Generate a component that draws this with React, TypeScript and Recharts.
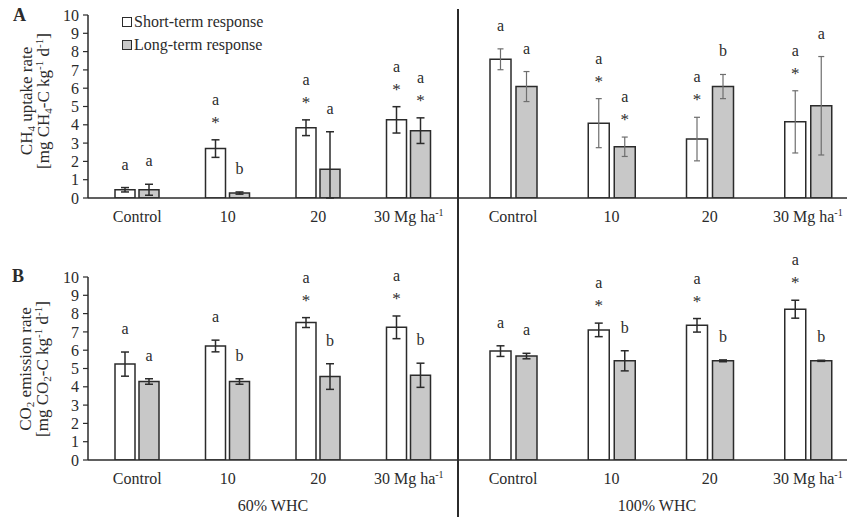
import React from 'react';
import { BarChart, Bar, XAxis, YAxis, ErrorBar, LabelList } from 'recharts';

const categories = ['Control', '10', '20', '30 Mg ha-1'];
const yTicks = [0, 1, 2, 3, 4, 5, 6, 7, 8, 9, 10];

// CH4 uptake, 60% WHC
const ch4DryShort = [0.45, 2.7, 3.84, 4.27];
const ch4DryShortErr = [0.12, 0.48, 0.43, 0.72];
const ch4DryLong = [0.45, 0.27, 1.57, 3.68];
const ch4DryLongErr: any[] = [0.3, 0.06, [1.57, 2.05], 0.7];
const ch4DryShortLetters = ['a', 'a', 'a', 'a'];
const ch4DryShortStars = [false, true, true, true];
const ch4DryLongLetters = ['a', 'b', 'a', 'a'];
const ch4DryLongStars = [false, false, false, true];

// CH4 uptake, 100% WHC
const ch4WetShort = [7.58, 4.09, 3.22, 4.16];
const ch4WetShortErr = [0.57, 1.34, 1.19, 1.7];
const ch4WetLong = [6.09, 2.8, 6.09, 5.04];
const ch4WetLongErr = [0.82, 0.53, 0.66, 2.69];
const ch4WetShortLetters = ['a', 'a', 'a', 'a'];
const ch4WetShortStars = [false, true, true, true];
const ch4WetLongLetters = ['a', 'a', 'b', 'a'];
const ch4WetLongStars = [false, true, false, false];

// CO2 emission, 60% WHC
const co2DryShort = [5.24, 6.23, 7.51, 7.25];
const co2DryShortErr = [0.66, 0.32, 0.27, 0.62];
const co2DryLong = [4.29, 4.29, 4.56, 4.63];
const co2DryLongErr = [0.15, 0.15, 0.7, 0.66];
const co2DryShortLetters = ['a', 'a', 'a', 'a'];
const co2DryShortStars = [false, false, true, true];
const co2DryLongLetters = ['a', 'b', 'b', 'b'];
const co2DryLongStars = [false, false, false, false];

// CO2 emission, 100% WHC
const co2WetShort = [5.95, 7.11, 7.36, 8.24];
const co2WetShortErr = [0.29, 0.37, 0.37, 0.49];
const co2WetLong = [5.68, 5.42, 5.42, 5.42];
const co2WetLongErr = [0.15, 0.55, 0.05, 0.03];
const co2WetShortLetters = ['a', 'a', 'a', 'a'];
const co2WetShortStars = [false, true, true, true];
const co2WetLongLetters = ['a', 'b', 'b', 'b'];
const co2WetLongStars = [false, false, false, false];

const FONT = '"Liberation Serif", "Times New Roman", serif';
const INK = '#2b2b2b';
const GREY = '#c8c8c8';

const buildRows = (s: number[], se: any[], l: number[], le: any[]) =>
  categories.map((cat, i) => ({ cat, short: s[i], shortErr: se[i], long: l[i], longErr: le[i] }));

// letters (and significance stars) placed above the top of each error bar
const letterContent = (letters: string[], stars: boolean[], errs: any[]) => (props: any) => {
  const { x, y, width, height, value, index } = props;
  const e = errs[index];
  const hi = Array.isArray(e) ? e[1] : e;
  const ppu = value ? Math.abs(height) / value : 0;
  const top = y - hi * ppu;
  const cx = x + width / 2;
  const star = stars[index];
  return (
    <g fontFamily={FONT} fill={INK}>
      {star && (
        <text x={cx} y={top - 22 + 10} textAnchor="middle" fontSize={17}>*</text>
      )}
      <text x={cx} y={top - (star ? 39 : 22) + 4} textAnchor="middle" fontSize={16}>
        {letters[index]}
      </text>
    </g>
  );
};

const XTick = (props: any) => {
  const { x, y, payload } = props;
  const v: string = payload.value;
  const parts = v.split('-1');
  return (
    <text x={x} y={y + 24} textAnchor="middle" fontFamily={FONT} fontSize={16} fill={INK}>
      {parts.length > 1 ? (
        <>
          {parts[0]}
          <tspan dy={-6} fontSize={10}>-1</tspan>
        </>
      ) : (
        v
      )}
    </text>
  );
};

interface PanelProps {
  rows: any[];
  withYAxis: boolean;
  width: number;
  barSize: number;
  barGap: number;
  padding: { left: number; right: number };
  errColor: string;
  errWidth: number;
  errCap: number;
  shortLetters: string[];
  shortStars: boolean[];
  shortErr: any[];
  longLetters: string[];
  longStars: boolean[];
  longErr: any[];
}

// each panel: 40px of headroom above the value 10, 183px plot, 32px axis
const Panel: React.FC<PanelProps> = (p) => (
  <BarChart
    width={p.width}
    height={255}
    data={p.rows}
    margin={{ top: 40, right: 0, bottom: 0, left: 0 }}
    barSize={p.barSize}
    barGap={p.barGap}
  >
    <XAxis
      dataKey="cat"
      height={32}
      padding={p.padding}
      tickLine={false}
      tickSize={0}
      tickMargin={0}
      tick={<XTick />}
      interval={0}
      axisLine={{ stroke: INK, strokeWidth: 1.5 }}
    />
    <YAxis
      hide={!p.withYAxis}
      width={88}
      domain={[0, 10]}
      ticks={yTicks}
      interval={0}
      allowDataOverflow
      tickSize={5}
      tickMargin={4}
      tickLine={{ stroke: INK, strokeWidth: 1.2 }}
      axisLine={{ stroke: INK, strokeWidth: 1.5 }}
      tick={{ fontFamily: FONT, fontSize: 16, fill: INK }}
    />
    <Bar dataKey="short" name="Short-term response" fill="#ffffff" stroke={INK} strokeWidth={1.5} isAnimationActive={false}>
      <ErrorBar dataKey="shortErr" width={p.errCap} stroke={p.errColor} strokeWidth={p.errWidth} direction="y" />
      <LabelList dataKey="short" content={letterContent(p.shortLetters, p.shortStars, p.shortErr)} />
    </Bar>
    <Bar dataKey="long" name="Long-term response" fill={GREY} stroke={INK} strokeWidth={1.5} isAnimationActive={false}>
      <ErrorBar dataKey="longErr" width={p.errCap} stroke={p.errColor} strokeWidth={p.errWidth} direction="y" />
      <LabelList dataKey="long" content={letterContent(p.longLetters, p.longStars, p.longErr)} />
    </Bar>
  </BarChart>
);

const abs = (left: number, top: number): React.CSSProperties => ({ position: 'absolute', left, top });

const yTitle: React.CSSProperties = {
  position: 'absolute',
  transform: 'translate(-50%, -50%) rotate(-90deg)',
  whiteSpace: 'nowrap',
  textAlign: 'center',
  fontFamily: FONT,
  fontSize: 17,
  lineHeight: '17px',
  color: INK,
};

const sub: React.CSSProperties = { fontSize: 11, verticalAlign: '-3px', lineHeight: 0 };
const sup: React.CSSProperties = { fontSize: 11, verticalAlign: '6px', lineHeight: 0 };

export default function App() {
  const leftPad = { left: 4, right: 4 };
  const rightPad = { left: 6, right: 1 };
  return (
    <div
      style={{
        position: 'absolute',
        left: 0,
        top: 0,
        width: 847,
        height: 517,
        overflow: 'hidden',
        background: '#ffffff',
        fontFamily: FONT,
        color: INK,
      }}
    >
      {/* A: CH4 uptake */}
      <div style={abs(0, -25)}>
        <Panel
          rows={buildRows(ch4DryShort, ch4DryShortErr, ch4DryLong, ch4DryLongErr)}
          withYAxis width={458} barSize={20} barGap={4} padding={leftPad}
          errColor={INK} errWidth={1.5} errCap={4}
          shortLetters={ch4DryShortLetters} shortStars={ch4DryShortStars} shortErr={ch4DryShortErr}
          longLetters={ch4DryLongLetters} longStars={ch4DryLongStars} longErr={ch4DryLongErr}
        />
      </div>
      <div style={abs(458, -25)}>
        <Panel
          rows={buildRows(ch4WetShort, ch4WetShortErr, ch4WetLong, ch4WetLongErr)}
          withYAxis={false} width={400} barSize={21} barGap={5} padding={rightPad}
          errColor="#6e6e6e" errWidth={1.2} errCap={3}
          shortLetters={ch4WetShortLetters} shortStars={ch4WetShortStars} shortErr={ch4WetShortErr}
          longLetters={ch4WetLongLetters} longStars={ch4WetLongStars} longErr={ch4WetLongErr}
        />
      </div>

      {/* B: CO2 emission */}
      <div style={abs(0, 237)}>
        <Panel
          rows={buildRows(co2DryShort, co2DryShortErr, co2DryLong, co2DryLongErr)}
          withYAxis width={458} barSize={20} barGap={4} padding={leftPad}
          errColor={INK} errWidth={1.5} errCap={4}
          shortLetters={co2DryShortLetters} shortStars={co2DryShortStars} shortErr={co2DryShortErr}
          longLetters={co2DryLongLetters} longStars={co2DryLongStars} longErr={co2DryLongErr}
        />
      </div>
      <div style={abs(458, 237)}>
        <Panel
          rows={buildRows(co2WetShort, co2WetShortErr, co2WetLong, co2WetLongErr)}
          withYAxis={false} width={400} barSize={21} barGap={5} padding={rightPad}
          errColor={INK} errWidth={1.5} errCap={4}
          shortLetters={co2WetShortLetters} shortStars={co2WetShortStars} shortErr={co2WetShortErr}
          longLetters={co2WetLongLetters} longStars={co2WetLongStars} longErr={co2WetLongErr}
        />
      </div>

      {/* divider between moisture levels */}
      <div style={{ position: 'absolute', left: 457, top: 9, width: 1.5, height: 508, background: INK }} />

      {/* panel letters */}
      <div style={{ ...abs(13, 5), fontWeight: 'bold', fontSize: 18 }}>A</div>
      <div style={{ ...abs(12, 266), fontWeight: 'bold', fontSize: 18 }}>B</div>

      {/* y-axis titles */}
      <div style={{ ...yTitle, left: 35, top: 101 }}>
        CH<span style={sub}>4</span> uptake rate
        <br />
        [mg CH<span style={sub}>4</span>-C kg<span style={sup}>-1</span> d<span style={sup}>-1</span>]
      </div>
      <div style={{ ...yTitle, left: 34, top: 369 }}>
        CO<span style={sub}>2</span> emission rate
        <br />
        [mg CO<span style={sub}>2</span>-C kg<span style={sup}>-1</span> d<span style={sup}>-1</span>]
      </div>

      {/* legend */}
      <div style={{ ...abs(122, 10), fontSize: 16, lineHeight: '23px' }}>
        <div style={{ display: 'flex', alignItems: 'center' }}>
          <span style={{ width: 8, height: 8, border: `1.5px solid ${INK}`, background: '#fff', marginRight: 2 }} />
          Short-term response
        </div>
        <div style={{ display: 'flex', alignItems: 'center' }}>
          <span style={{ width: 8, height: 8, border: `1.5px solid ${INK}`, background: GREY, marginRight: 2 }} />
          Long-term response
        </div>
      </div>

      {/* moisture level captions */}
      <div style={{ position: 'absolute', left: 273, top: 506, transform: 'translate(-50%, -50%)', fontSize: 16, whiteSpace: 'nowrap' }}>
        60% WHC
      </div>
      <div style={{ position: 'absolute', left: 657, top: 506, transform: 'translate(-50%, -50%)', fontSize: 16, whiteSpace: 'nowrap' }}>
        100% WHC
      </div>
    </div>
  );
}
